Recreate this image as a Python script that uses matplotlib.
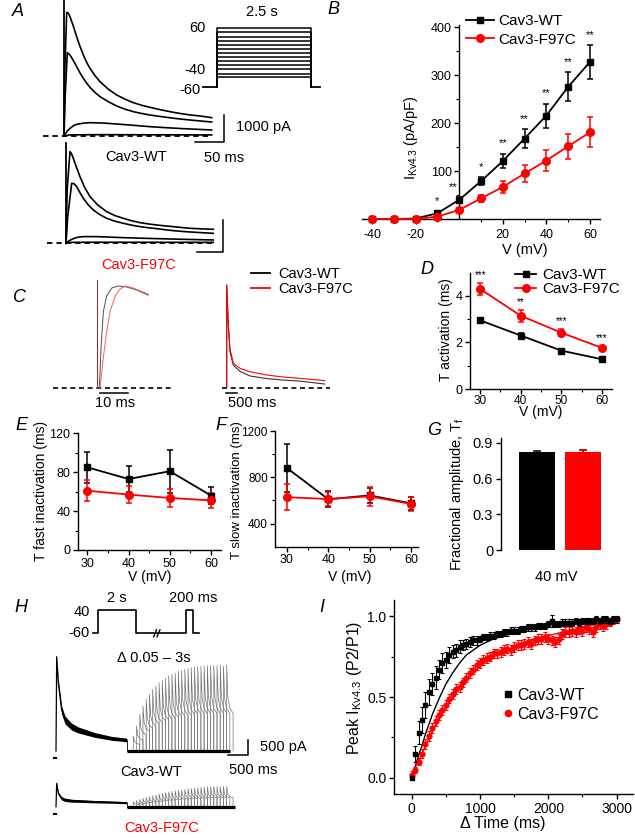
import numpy as np
import matplotlib
matplotlib.use("Agg")
import matplotlib.pyplot as plt
from matplotlib.lines import Line2D

plt.rcParams['font.family'] = ['Liberation Sans', 'DejaVu Sans']
plt.rcParams['axes.unicode_minus'] = False
plt.rcParams['mathtext.fontset'] = 'custom'
plt.rcParams['mathtext.rm'] = 'Liberation Sans'
plt.rcParams['mathtext.it'] = 'Liberation Sans:italic'
plt.rcParams['axes.linewidth'] = 1.0

RED = '#ff0000'
FS_TICK, FS_LAB, FS_LEG, FS_TXT, FS_LET = 9, 10, 10.5, 10.5, 13

# ====================== DATA ======================
# A: example current traces (time ms, current pA)
a_wt_t1 = [0, 1.5, 4.6, 7.5, 10.3, 16, 21.8, 27.5, 33.3, 39, 44.8, 53, 62.1, 76, 90.8, 105, 119.5, 134, 148.3, 163, 177, 191, 205.7, 220, 234.5, 254.6]
a_wt_i1 = [0, 2500, 4630, 4600, 4468, 4120, 3719, 3360, 3033, 2760, 2533, 2270, 2034, 1760, 1535, 1380, 1248, 1150, 1073, 1000, 936, 877, 824, 783, 749, 686]
a_wt_t2 = [0, 2, 5.7, 10.3, 16, 21.8, 27.5, 33.3, 39, 44.8, 53, 62.1, 76, 90.8, 105, 119.5, 134, 148.3, 163, 177, 191, 205.7, 230, 254.6]
a_wt_i2 = [0, 1500, 3120, 3033, 2830, 2596, 2370, 2159, 1980, 1822, 1640, 1473, 1290, 1123, 1005, 911, 843, 786, 740, 699, 660, 624, 572, 524]
a_wt_t3 = [0, 5, 10.3, 16, 21.8, 33, 44.8, 68, 90.8, 120, 148.3, 177, 205.7, 254.6]
a_wt_i3 = [0, 170, 287, 380, 437, 480, 499, 485, 449, 400, 349, 310, 275, 225]
a_wt_t4 = [0, 10, 50, 150, 254.6]
a_wt_i4 = [0, 40, 50, 45, 40]
a_wt_transient = 5050

a_mt_t1 = [0, 2, 6.9, 9.5, 12.6, 18, 24.1, 32, 41.4, 55, 70.1, 84, 98.8, 113, 127.6, 142, 156.3, 170, 185, 199, 213.8, 234, 254]
a_mt_i1 = [0, 2000, 3432, 3360, 3182, 2850, 2496, 2100, 1747, 1430, 1186, 1040, 936, 845, 774, 725, 686, 653, 624, 592, 562, 540, 524]
a_mt_t2 = [0, 3, 9.8, 14, 18.4, 24, 29.9, 38, 47.1, 58, 70.1, 84, 98.8, 113, 127.6, 142, 156.3, 170, 185, 199, 213.8, 234, 254]
a_mt_i2 = [0, 1000, 2246, 2230, 2122, 1900, 1685, 1450, 1248, 1080, 936, 830, 749, 680, 624, 582, 549, 510, 474, 448, 424, 398, 374]
a_mt_t3 = [0, 5, 12.6, 20, 29.9, 52.9, 75, 98.8, 127, 156.3, 200, 254]
a_mt_i3 = [0, 90, 175, 225, 250, 250, 232, 212, 193, 175, 150, 125]
a_mt_t4 = [0, 10, 50, 150, 254]
a_mt_i4 = [0, 35, 40, 38, 35]
a_mt_transient = 3750

# A inset: voltage protocol
a_levels = [-40, -32, -23, -15, -7, 2, 10, 18, 27, 35, 43, 52, 60]
a_hold = -60
a_step_dur = 2.5

# B: I-V
iv_v = [-40, -30, -20, -10, 0, 10, 20, 30, 40, 50, 60]
iv_wt = [0, 0, 1, 12, 40, 79, 121, 168, 216, 276, 328]
iv_wt_err = [1, 1, 2, 4, 5, 8, 15, 19, 25, 30, 35]
iv_mt = [0, 0, 0, 5, 19, 43, 67, 95, 122, 152, 181]
iv_mt_err = [1, 1, 1, 3, 3, 8, 12, 17, 22, 26, 31]
iv_sig = ['', '', '', '*', '**', '*', '**', '**', '**', '**', '**']

# C: normalized traces
c1_t_wt = [0.94, 1.53, 2.35, 3.5, 5.3, 7.6, 10.6, 14.1, 18.2]
c1_wt = [0, 0.4, 0.75, 0.9, 0.98, 1.0, 0.99, 0.96, 0.91]
c1_t_mt = [1.18, 2.35, 3.5, 4.7, 6.5, 8.2, 10.0, 12.9, 18.2]
c1_mt = [0, 0.3, 0.55, 0.75, 0.9, 0.97, 1.0, 0.98, 0.92]
c_transient = 1.06
c2_t = [0, 0, 73, 147, 294, 588, 1029, 1764, 2499, 3234, 4337]
c2_wt = [0, 1.01, 0.6, 0.35, 0.22, 0.16, 0.115, 0.09, 0.075, 0.065, 0.036]
c2_mt = [0, 1.01, 0.62, 0.38, 0.24, 0.19, 0.157, 0.125, 0.105, 0.092, 0.069]

# D/E/F: kinetics vs voltage
kv = [30, 40, 50, 60]
tact_wt = [2.95, 2.3, 1.65, 1.28]
tact_wt_err = [0.1, 0.1, 0.07, 0.05]
tact_mt = [4.3, 3.15, 2.42, 1.77]
tact_mt_err = [0.25, 0.25, 0.15, 0.06]
tact_sig = ['***', '**', '***', '***']
tfast_wt = [85, 73, 81, 56]
tfast_wt_err = [16, 13, 22, 9]
tfast_mt = [61, 57, 53.5, 51]
tfast_mt_err = [11, 9, 9, 8]
tslow_wt = [880, 610, 643, 575]
tslow_wt_err = [210, 70, 65, 55]
tslow_mt = [628, 612, 635, 570]
tslow_mt_err = [110, 60, 80, 60]

# G: fractional amplitude
g_groups = ['Cav3-WT', 'Cav3-F97C']
g_vals = [0.82, 0.825]
g_errs = [0.01, 0.015]

# H: recovery traces (display ms, pA)
h_p1_t = [0, 17, 58, 142, 225, 392, 558, 975, 1392, 1767]
h_wt_p1 = [0, 3143, 2256, 1367, 1033, 811, 700, 533, 422, 367]
h_wt_p1_hw = [0, 40, 120, 130, 130, 115, 100, 80, 65, 60]
h_mt_p1 = [0, 778, 444, 278, 230, 200, 190, 167, 150, 133]
h_mt_p1_hw = [0, 25, 45, 55, 55, 50, 45, 40, 35, 35]
h_delta = [100, 200, 300, 400, 500, 600, 700, 800, 900, 1000,
           1100, 1200, 1300, 1400, 1500, 1600, 1700, 1800, 1900, 2000,
           2100, 2200, 2300, 2400, 2500, 2600, 2700, 2800, 2900, 3000]
h_wt_peaks = [500, 833, 1221, 1500, 1720, 1887, 2053, 2165, 2275, 2353,
              2420, 2498, 2553, 2597, 2642, 2686, 2720, 2753, 2775, 2797,
              2808, 2820, 2830, 2842, 2842, 2853, 2853, 2864, 2830, 2860]
h_mt_peaks = [167, 200, 240, 275, 305, 335, 365, 395, 420, 445,
              470, 490, 510, 530, 548, 565, 580, 595, 608, 620,
              630, 640, 648, 655, 660, 665, 668, 670, 672, 675]
h_decay_t = [0, 30, 80, 160]
h_decay_f = [1.0, 0.62, 0.5, 0.44]
h_prot_t = [0, 230, 230, 2230, 2230, 4830, 4830, 5180, 5180, 5510]
h_prot_v = [-60, -60, 40, 40, -60, -60, 40, 40, -60, -60]

# I: recovery time course
i_t = [0, 50, 100, 150, 200, 250, 300, 350, 400, 450, 500, 550, 600, 650, 700, 750, 800, 850, 900, 950,
       1000, 1050, 1100, 1150, 1200, 1250, 1300, 1350, 1400, 1450, 1500, 1550, 1600, 1650, 1700, 1750, 1800,
       1850, 1900, 1950, 2000, 2050, 2100, 2150, 2200, 2250, 2300, 2350, 2400, 2450, 2500, 2550, 2600, 2650,
       2700, 2750, 2800, 2850, 2900, 2950, 3000]
i_wt = [0.00, 0.15, 0.28, 0.36, 0.45, 0.53, 0.58, 0.62, 0.67, 0.71,
        0.73, 0.76, 0.78, 0.79, 0.81, 0.82, 0.83, 0.84, 0.85, 0.85,
        0.86, 0.87, 0.87, 0.88, 0.88, 0.89, 0.89, 0.90, 0.90, 0.91,
        0.91, 0.91, 0.92, 0.92, 0.93, 0.93, 0.93, 0.94, 0.94, 0.94,
        0.95, 0.97, 0.95, 0.95, 0.96, 0.96, 0.96, 0.96, 0.97, 0.96,
        0.97, 0.97, 0.97, 0.97, 0.98, 0.97, 0.98, 0.98, 0.97, 0.98, 0.98]
i_wt_err = [0.01, 0.05, 0.07, 0.08, 0.08, 0.08, 0.07, 0.07, 0.06, 0.06,
            0.05, 0.05, 0.04, 0.04, 0.04, 0.03, 0.03, 0.03, 0.03, 0.03,
            0.02, 0.02, 0.02, 0.02, 0.02, 0.02, 0.02, 0.02, 0.02, 0.02,
            0.02, 0.02, 0.02, 0.02, 0.02, 0.02, 0.02, 0.02, 0.02, 0.02,
            0.02, 0.04, 0.02, 0.02, 0.02, 0.02, 0.02, 0.02, 0.02, 0.02,
            0.02, 0.02, 0.02, 0.02, 0.02, 0.02, 0.02, 0.02, 0.02, 0.02, 0.02]
i_mt = [0.02, 0.05, 0.10, 0.15, 0.21, 0.26, 0.31, 0.35, 0.39, 0.42,
        0.45, 0.49, 0.52, 0.55, 0.56, 0.59, 0.62, 0.65, 0.67, 0.70,
        0.71, 0.73, 0.74, 0.75, 0.77, 0.77, 0.78, 0.79, 0.80, 0.79,
        0.81, 0.82, 0.82, 0.83, 0.84, 0.83, 0.85, 0.86, 0.86, 0.87,
        0.86, 0.85, 0.84, 0.86, 0.89, 0.90, 0.90, 0.91, 0.90, 0.92,
        0.91, 0.93, 0.92, 0.90, 0.93, 0.95, 0.94, 0.95, 0.96, 0.97, 0.98]
i_mt_err = [0.02, 0.02, 0.02, 0.03, 0.03, 0.03, 0.03, 0.03, 0.03, 0.03,
            0.03, 0.03, 0.03, 0.03, 0.03, 0.03, 0.03, 0.03, 0.03, 0.03,
            0.03, 0.03, 0.03, 0.03, 0.03, 0.03, 0.03, 0.03, 0.03, 0.03,
            0.03, 0.03, 0.03, 0.03, 0.03, 0.03, 0.03, 0.03, 0.03, 0.03,
            0.03, 0.03, 0.03, 0.03, 0.03, 0.03, 0.03, 0.03, 0.03, 0.03,
            0.03, 0.03, 0.03, 0.03, 0.03, 0.03, 0.03, 0.03, 0.02, 0.02, 0.02]
fit_t = [0, 50, 100, 150, 200, 300, 400, 500, 600, 700, 800, 1000, 1200, 1500, 1800, 2100, 2400, 2700, 3000]
fit_wt = [0.0, 0.07, 0.14, 0.20, 0.27, 0.39, 0.49, 0.58, 0.65, 0.71, 0.76, 0.82, 0.86, 0.90, 0.93, 0.95, 0.96, 0.97, 0.98]
fit_mt = [0.02, 0.06, 0.11, 0.15, 0.20, 0.29, 0.37, 0.44, 0.50, 0.56, 0.61, 0.69, 0.75, 0.81, 0.86, 0.89, 0.92, 0.95, 0.97]

# ====================== FIGURE ======================
W, H = 635.0, 838.0
fig = plt.figure(figsize=(6.35, 8.38), dpi=100)


def add_ax(l, t, r, b):
    return fig.add_axes([l / W, 1 - b / H, (r - l) / W, (b - t) / H])


def ftext(x, y, s, **kw):
    kw.setdefault('ha', 'center')
    kw.setdefault('va', 'center')
    fig.text(x / W, 1 - y / H, s, **kw)


def style(ax):
    for sp in ['top', 'right']:
        ax.spines[sp].set_visible(False)
    ax.tick_params(direction='out', length=3.5, width=1, labelsize=FS_TICK, pad=2)
    ax.tick_params(which='minor', direction='out', length=2, width=0.8)


def noclip(cont):
    for art in cont.get_children():
        art.set_clip_on(False)


# ---------- A ----------
axA1 = add_ax(40, 0, 232, 148)
axA1.set_axis_off()
axA1.set_xlim(-41.4, 289.6)
axA1.set_ylim((136 - 148) * 37.45, 136 * 37.45)
axA1.plot([-36.2, 251.7], [0, 0], ls=(0, (3, 2.2)), color='k', lw=1.3)
for tt, ii in [(a_wt_t1, a_wt_i1), (a_wt_t2, a_wt_i2), (a_wt_t3, a_wt_i3), (a_wt_t4, a_wt_i4)]:
    axA1.plot(tt, ii, color='k', lw=1.2)
axA1.plot([0, 0], [0, a_wt_transient], color='k', lw=1.3)
axA1.plot([275.8, 275.8, 225.8], [786, -213, -213], color='k', lw=1.1)

axA2 = add_ax(40, 140, 232, 256)
axA2.set_axis_off()
axA2.set_xlim(-44.8, 286.2)
axA2.set_ylim((243.3 - 256) * 37.45, (243.3 - 140) * 37.45)
axA2.plot([-33.3, 253.4], [0, 0], ls=(0, (3, 2.2)), color='k', lw=1.3)
for tt, ii in [(a_mt_t1, a_mt_i1), (a_mt_t2, a_mt_i2), (a_mt_t3, a_mt_i3), (a_mt_t4, a_mt_i4)]:
    axA2.plot(tt, ii, color='k', lw=1.2)
axA2.plot([0, 0], [0, a_mt_transient], color='k', lw=1.3)
axA2.plot([271.2, 271.2, 225.3], [872, -315, -315], color='k', lw=1.1)

axAi = add_ax(195, 20, 325, 95)
axAi.set_axis_off()
axAi.set_xlim(-0.577, 2.88)
axAi.set_ylim(-75.6, 76.9)
for lev in a_levels:
    axAi.plot([0, 0, a_step_dur, a_step_dur], [a_hold, lev, lev, a_hold], color='k', lw=1.1)
axAi.plot([-0.366, 0], [a_hold, a_hold], color='k', lw=1.3)
axAi.plot([a_step_dur, 2.745], [a_hold, a_hold], color='k', lw=1.3)

ftext(262, 12, '2.5 s', fontsize=FS_TXT)
ftext(206, 28, '60', fontsize=FS_TXT, ha='right')
ftext(206, 70, '-40', fontsize=FS_TXT, ha='right')
ftext(201, 90, '-60', fontsize=FS_TXT, ha='right')
ftext(236, 127, '1000 pA', fontsize=FS_TXT, ha='left')
ftext(224, 158, '50 ms', fontsize=FS_TXT)
ftext(136, 157, 'Cav3-WT', fontsize=FS_TXT)
ftext(139, 265, 'Cav3-F97C', fontsize=FS_TXT, color=RED)

# ---------- B ----------
axB = add_ax(362, 25, 600, 219)
style(axB)
axB.spines['left'].set_position(('data', 0))
c = axB.errorbar(iv_v, iv_wt, yerr=iv_wt_err, color='k', marker='s', ms=5, lw=1.3,
                 elinewidth=1.1, capsize=2.5, capthick=1.1, zorder=3)
noclip(c)
c = axB.errorbar(iv_v, iv_mt, yerr=iv_mt_err, color=RED, marker='o', ms=5.5, lw=1.3,
                 elinewidth=1.1, capsize=2.5, capthick=1.1, zorder=4)
noclip(c)
axB.set_xlim(-44.6, 64.6)
axB.set_ylim(0, 405)
axB.set_xticks([-40, -20, 20, 40, 60])
axB.set_xticks([-30, -10, 10, 30, 50], minor=True)
axB.set_yticks([100, 200, 300, 400])
axB.set_yticks([50, 150, 250, 350], minor=True)
axB.tick_params(axis='x', pad=4)
for v, y, e, s in zip(iv_v, iv_wt, iv_wt_err, iv_sig):
    if s:
        axB.text(v - (3 if v == 0 else 0), y + e + 22, s, ha='center', va='center', fontsize=8)
ftext(411, 138, r'I$_{\mathrm{Kv4.3}}$ (pA/pF)', fontsize=FS_LAB + 0.5, rotation=90)
ftext(525, 250, 'V (mV)', fontsize=FS_LAB + 0.5)
axB.legend(handles=[Line2D([], [], color='k', marker='s', ms=5, lw=1.3),
                    Line2D([], [], color=RED, marker='o', ms=5.5, lw=1.3)],
           labels=['Cav3-WT', 'Cav3-F97C'], loc='upper left',
           bbox_to_anchor=(466 / W, 1 - 14 / H), bbox_transform=fig.transFigure,
           frameon=False, fontsize=FS_LEG + 0.5, handlelength=1.8, handletextpad=0.3,
           labelspacing=0.3, borderpad=0, borderaxespad=0)

# ---------- C ----------
axC1 = add_ax(50, 275, 180, 400)
axC1.set_axis_off()
axC1.set_xlim(-16.5, 29.4)
axC1.set_ylim(-0.121, 1.108)
axC1.plot([-15.3, 26.6], [0, 0], ls=(0, (3, 2.2)), color='k', lw=1.2)
axC1.plot([0, 0], [0, c_transient], color='#7a3a3a', lw=0.8)
axC1.plot(c1_t_wt, c1_wt, color='0.3', lw=0.7)
axC1.plot(c1_t_mt, c1_mt, color='#ff5a5a', lw=0.7)
axC1.plot([1.18, 11.18], [-0.055, -0.055], color='k', lw=1.1)
ftext(115, 403, '10 ms', fontsize=FS_TXT)

axC2 = add_ax(215, 275, 335, 400)
axC2.set_axis_off()
axC2.set_xlim(-517, 4787)
axC2.set_ylim(-0.121, 1.108)
axC2.plot([-221, 4566], [0, 0], ls=(0, (3, 2.2)), color='k', lw=1.2)
axC2.plot(c2_t, c2_wt, color='0.2', lw=0.8)
axC2.plot(c2_t, c2_mt, color=RED, lw=0.8)
axC2.plot([-31, 469], [-0.055, -0.055], color='k', lw=1.1)
ftext(252, 403, '500 ms', fontsize=FS_TXT)

fig.legend(handles=[Line2D([], [], color='k', lw=1.3), Line2D([], [], color=RED, lw=1.3)],
           labels=['Cav3-WT', 'Cav3-F97C'], loc='upper left',
           bbox_to_anchor=(251 / W, 1 - 267 / H), frameon=False, fontsize=FS_LEG,
           handlelength=1.3, handletextpad=0.6, labelspacing=0.05, borderpad=0, borderaxespad=0)

# ---------- D ----------
axD = add_ax(470, 272.7, 612, 389)
style(axD)
axD.errorbar(kv, tact_wt, yerr=tact_wt_err, color='k', marker='s', ms=5, lw=1.3,
             elinewidth=1.1, capsize=2.5, capthick=1.1)
axD.errorbar(kv, tact_mt, yerr=tact_mt_err, color=RED, marker='o', ms=5.5, lw=1.3,
             elinewidth=1.1, capsize=2.5, capthick=1.1)
axD.set_xlim(27.5, 62.5)
axD.set_ylim(0, 5)
axD.set_xticks(kv)
axD.set_xticks([35, 45, 55], minor=True)
axD.set_yticks([0, 2, 4])
axD.set_yticks([1, 3], minor=True)
axD.tick_params(axis='x', pad=0.5, labelsize=8.5)
for v, y, e, s in zip(kv, tact_mt, tact_mt_err, tact_sig):
    axD.text(v, y + e + 0.35, s, ha='center', va='center', fontsize=7)
ftext(446, 330, 'T activation (ms)', fontsize=FS_LAB, rotation=90)
ftext(541, 412, 'V (mV)', fontsize=FS_LAB)
axD.legend(handles=[Line2D([], [], color='k', marker='s', ms=5, lw=1.3),
                    Line2D([], [], color=RED, marker='o', ms=5.5, lw=1.3)],
           labels=['Cav3-WT', 'Cav3-F97C'], loc='upper left',
           bbox_to_anchor=(515 / W, 1 - 268 / H), bbox_transform=fig.transFigure,
           frameon=False, fontsize=FS_LEG + 0.5, handlelength=1.4, handletextpad=0.4,
           labelspacing=0.0, borderpad=0, borderaxespad=0)

# ---------- E ----------
axE = add_ax(77.9, 433.3, 221.3, 550)
style(axE)
axE.errorbar(kv, tfast_wt, yerr=tfast_wt_err, color='k', marker='s', ms=5, lw=1.3,
             elinewidth=1.1, capsize=2.5, capthick=1.1)
axE.errorbar(kv, tfast_mt, yerr=tfast_mt_err, color=RED, marker='o', ms=5.5, lw=1.3,
             elinewidth=1.1, capsize=2.5, capthick=1.1)
axE.set_xlim(27.7, 62.5)
axE.set_ylim(0, 120)
axE.set_xticks(kv)
axE.set_xticks([35, 45, 55], minor=True)
axE.set_yticks([0, 40, 80, 120])
axE.set_yticks([20, 60, 100], minor=True)
ftext(41, 491, 'T fast inactivation (ms)', fontsize=FS_LAB, rotation=90)
ftext(150, 577, 'V (mV)', fontsize=FS_LAB)

# ---------- F ----------
axF = add_ax(275.4, 431, 418, 546.7)
style(axF)
axF.errorbar(kv, tslow_wt, yerr=tslow_wt_err, color='k', marker='s', ms=5, lw=1.3,
             elinewidth=1.1, capsize=2.5, capthick=1.1)
axF.errorbar(kv, tslow_mt, yerr=tslow_mt_err, color=RED, marker='o', ms=5.5, lw=1.3,
             elinewidth=1.1, capsize=2.5, capthick=1.1)
axF.set_xlim(27.2, 61.7)
axF.set_ylim(200, 1200)
axF.set_xticks(kv)
axF.set_xticks([35, 45, 55], minor=True)
axF.set_yticks([400, 800, 1200])
axF.set_yticks([600, 1000], minor=True)
axF.tick_params(axis='y', labelsize=8.5)
ftext(237, 490, 'T slow inactivation (ms)', fontsize=9.5, rotation=90)
ftext(350, 577, 'V (mV)', fontsize=FS_LAB)

# ---------- G ----------
axG = add_ax(500.8, 438, 610, 550)
style(axG)
axG.spines['bottom'].set_visible(False)
axG.bar([0, 1], g_vals, width=0.78, color=['k', RED], yerr=g_errs,
        error_kw=dict(ecolor='k', elinewidth=1.1, capsize=3, capthick=1.1))
axG.errorbar([1], [g_vals[1]], yerr=[g_errs[1]], color=RED, ls='none', elinewidth=1.1, capsize=3, capthick=1.1)
axG.set_xlim(-0.78, 1.59)
axG.set_ylim(0, 0.94)
axG.set_xticks([])
axG.set_yticks([0, 0.3, 0.6, 0.9])
axG.set_yticklabels(['0', '0.3', '0.6', '0.9'])
axG.tick_params(axis='y', labelsize=FS_TICK + 1.5)
ftext(457, 494, r'Fractional amplitude, T$_{\mathrm{f}}$', fontsize=FS_LAB + 0.5, rotation=90)
ftext(556, 577, '40 mV', fontsize=FS_LAB + 0.5)

# ---------- H ----------
axHp = add_ax(90, 600, 205, 640)
axHp.set_axis_off()
axHp.set_xlim((90 - 93.3) * 52.2, (205 - 93.3) * 52.2)
axHp.set_ylim(-88.7, 82.9)
axHp.plot(h_prot_t, h_prot_v, color='k', lw=1.2)
axHp.plot([3150, 3300], [-75, -45], color='k', lw=1.0)
axHp.plot([3330, 3480], [-75, -45], color='k', lw=1.0)
ftext(90, 611.7, '40', fontsize=FS_TXT, ha='right')
ftext(90, 633, '-60', fontsize=FS_TXT, ha='right')
ftext(116.7, 598.3, '2 s', fontsize=FS_TXT)
ftext(192.7, 598.3, '200 ms', fontsize=FS_TXT)
ftext(154, 658.3, '\u0394 0.05 \u2013 3s', fontsize=FS_TXT)

axH = add_ax(40, 640, 260, 815)
axH.set_axis_off()
axH.set_xlim((40 - 56) * 25, (260 - 56) * 25)
axH.set_ylim((751 - 815) * 33.33, (751 - 640) * 33.33)
p1_end = h_p1_t[-1]
mt_off = (751 - 806.7) * 33.33
for peaks, p1, hw, off, bar_end in [(h_wt_peaks, h_wt_p1, h_wt_p1_hw, 0, 4350),
                                     (h_mt_peaks, h_mt_p1, h_mt_p1_hw, mt_off, 4475)]:
    p1a = np.array(p1, float)
    hwa = np.array(hw, float)
    axH.fill_between(h_p1_t, p1a - hwa + off, p1a + hwa + off, color='k', lw=0)
    axH.plot(h_p1_t, p1a + off, color='k', lw=0.9)
    axH.plot([p1_end, p1_end], [p1a[-1] + off, off], color='k', lw=0.6)
    axH.plot([-40, 0], [off - 230, off - 230], color='k', lw=1.5)
    for d, pk in zip(h_delta, peaks):
        t0 = 1852 + 0.805 * d
        xs = [t0, t0] + [t0 + dt for dt in h_decay_t[1:]] + [t0 + h_decay_t[-1]]
        ys = [off, off + pk] + [off + pk * f for f in h_decay_f[1:]] + [off]
        axH.plot(xs, ys, color='0.45', lw=0.5)
    axH.plot([p1_end, bar_end], [off, off], color='k', lw=2.3, solid_capstyle='butt')
axH.plot([4800, 4800, 4300], [367, -133, -133], color='k', lw=1.1)
ftext(260, 747, '500 pA', fontsize=FS_TXT, ha='left')
ftext(253, 770, '500 ms', fontsize=FS_TXT)
ftext(151, 771.7, 'Cav3-WT', fontsize=FS_TXT)
ftext(162, 828, 'Cav3-F97C', fontsize=FS_TXT, color=RED)

# ---------- I ----------
axI = add_ax(394, 600, 633, 794)
style(axI)
axI.plot(fit_t, fit_wt, color='k', lw=1.0, zorder=2)
axI.plot(fit_t, fit_mt, color=RED, lw=1.0, zorder=2)
axI.errorbar(i_t, i_mt, yerr=i_mt_err, color=RED, marker='o', ms=3.5, ls='none',
             elinewidth=0.8, capsize=1.5, capthick=0.8, zorder=3)
axI.errorbar(i_t, i_wt, yerr=i_wt_err, color='k', marker='s', ms=3.3, ls='none',
             elinewidth=0.8, capsize=1.5, capthick=0.8, zorder=4)
axI.set_xlim(-260, 3240)
axI.set_ylim(-0.1, 1.1)
axI.set_xticks([0, 1000, 2000, 3000])
axI.set_xticks([500, 1500, 2500], minor=True)
axI.set_yticks([0, 0.5, 1.0])
axI.set_yticklabels(['0.0', '0.5', '1.0'])
axI.set_yticks([0.25, 0.75], minor=True)
axI.tick_params(labelsize=FS_TICK + 1)
ftext(355, 688, r'Peak I$_{\mathrm{Kv4.3}}$ (P2/P1)', fontsize=FS_LAB + 1.5, rotation=90)
ftext(503, 823, '\u0394 Time (ms)', fontsize=FS_LAB + 1.5)
axI.legend(handles=[Line2D([], [], color='k', marker='s', ms=4, ls='none'),
                    Line2D([], [], color=RED, marker='o', ms=4.5, ls='none')],
           labels=['Cav3-WT', 'Cav3-F97C'], loc='upper left',
           bbox_to_anchor=(503 / W, 1 - 688 / H), bbox_transform=fig.transFigure,
           frameon=False, fontsize=FS_LEG + 1, handlelength=0.6, handletextpad=0.3,
           labelspacing=0.25, borderpad=0, borderaxespad=0)

# ---------- panel letters ----------
for let, x, y in [('A', 18, 12), ('B', 333, 10), ('C', 20, 297), ('D', 427, 270), ('E', 21, 425),
                  ('F', 221, 425), ('G', 434, 430), ('H', 21, 607), ('I', 322, 608)]:
    ftext(x, y, let, fontsize=FS_LET, style='italic')

fig.savefig('out.png', dpi=100)
